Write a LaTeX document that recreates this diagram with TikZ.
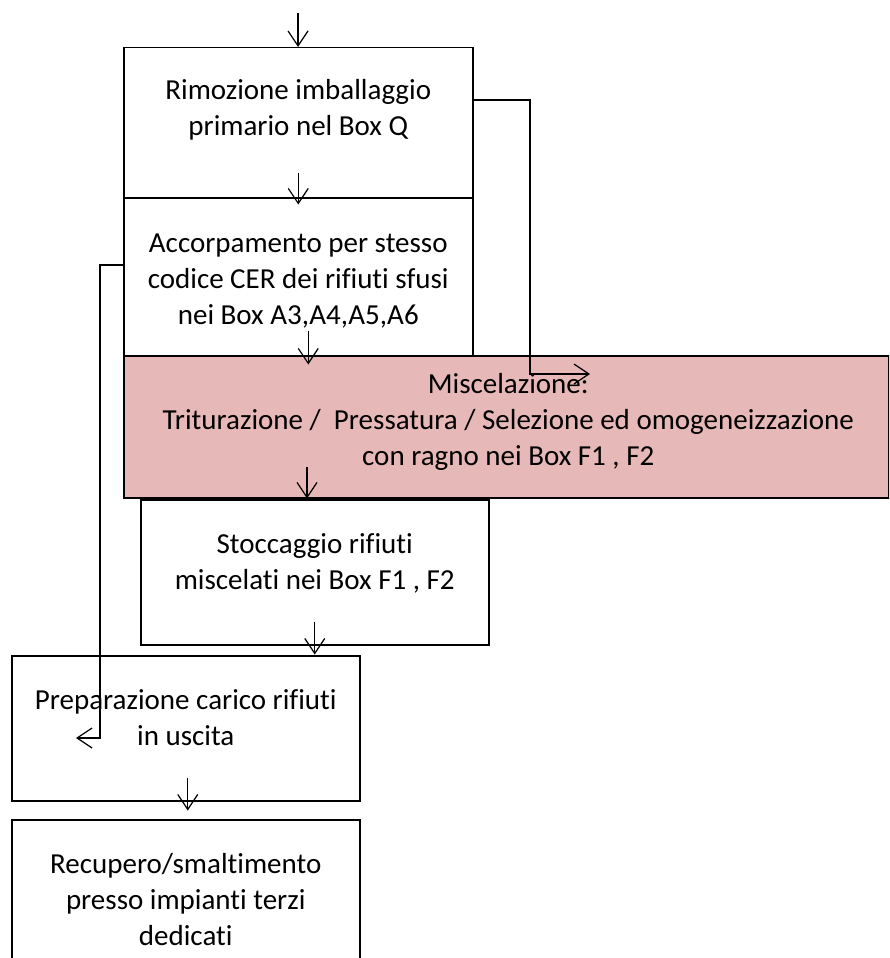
\documentclass[tikz,border=0pt]{standalone}
\usepackage{fontspec}
\setmainfont[Ligatures={NoCommon}]{Carlito}
\usetikzlibrary{arrows.meta,calc}
\definecolor{miscfill}{RGB}{230,184,183}
\begin{document}
\begin{tikzpicture}[x=1pt,y=-1pt,
  box/.style={draw=black, line width=1.5pt, inner sep=0pt, anchor=north west},
  lbl/.style={anchor=north, inner sep=0pt, align=center, font=\fontsize{29}{36}\selectfont},
  arr/.style={line width=1.2pt, -{Straight Barb[length=15pt,width=20pt,line width=1.2pt]}},
  conn/.style={line width=1.2pt}
]
\useasboundingbox (0,0) rectangle (889,958);
\clip (0,0) rectangle (889,958);
% boxes
\node[box, minimum width=349pt, minimum height=150pt] (b1) at (123,47) {};
\node[box, minimum width=349pt, minimum height=158pt] (b2) at (123,197) {};
\node[box, fill=miscfill, minimum width=765pt, minimum height=142pt] (b3) at (123,355) {};
\node[box, minimum width=348pt, minimum height=145pt] (b4) at (140,499) {};
\node[box, minimum width=348pt, minimum height=145pt] (b5) at (11,655) {};
\node[box, minimum width=348pt, minimum height=150pt] (b6) at (11,819) {};
% texts
\node[lbl] (t1) at ($(b1.north)+(0,30)$) {\rule{0pt}{22pt}Rimozione imballaggio\\primario nel Box Q};
\node[lbl] (t2) at ($(b2.north)+(0,33)$) {\rule{0pt}{22pt}Accorpamento per stesso\\codice CER dei rifiuti sfusi\\nei Box A3,A4,A5,A6};
\node[lbl] (t3) at ($(b3.north)+(2,16)$) {\rule{0pt}{22pt}Miscelazione:\\Triturazione /~ Pressatura / Selezione ed omogeneizzazione\\con ragno nei Box F1 , F2};
\node[lbl] (t4) at ($(b4.north)+(0,32)$) {\rule{0pt}{22pt}Stoccaggio rifiuti\\miscelati nei Box F1 , F2};
\node[lbl] (t5) at ($(b5.north)+(0,32)$) {\rule{0pt}{22pt}Preparazione carico rifiuti\\in uscita};
\node[lbl] (t6) at ($(b6.north)+(0,32)$) {\rule{0pt}{22pt}Recupero/smaltimento\\presso impianti terzi\\dedicati};
% coordinates
\coordinate (a0s) at (298,13);
\coordinate (r1) at (530,374);
\coordinate (r2) at (590,374);
\coordinate (l1) at (100,738);
\coordinate (l2) at (76,738);
% vertical arrows
\draw[arr] (a0s) -- (b1.north -| a0s);
\draw[arr] ($(b1.south)+(0,-26)$) -- ($(b1.south)+(0,6)$);
\draw[arr] ($(b2.south)+(10,-26)$) -- ($(b2.south)+(10,8)$);
\draw[arr] ($(b3.south west)+(184,-32)$) -- ($(b3.south west)+(184,0)$);
\draw[arr] ($(b4.south)+(0,-24)$) -- ($(b4.south)+(0,9)$);
\draw[arr] ($(b5.south)+(2,-24)$) -- ($(b5.south)+(2,9)$);
% side connectors
\draw[arr] ($(b1.north east)+(0,53)$) -| (r1) -- (r2);
\draw[arr] ($(b2.north west)+(0,68)$) -| (l1) -- (l2);
\end{tikzpicture}
\end{document}
